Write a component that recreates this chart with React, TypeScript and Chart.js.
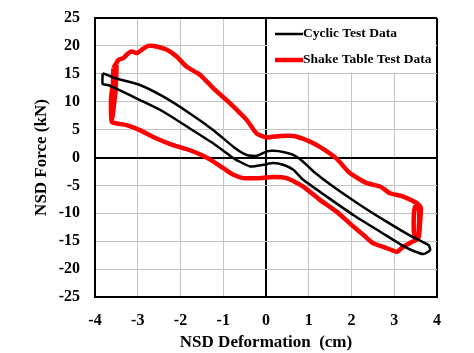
import React, { useEffect, useRef } from "react";
import { Chart, registerables } from "chart.js";

Chart.register(...registerables);

const seriesLabels = ["Cyclic Test Data", "Shake Table Test Data"];

// Cyclic test hysteresis loop (closed path)
const cyclicX = [
  -3.82, -3.65, -3.53, -2.95, -2.4, -1.78, -1.23, -0.76, -0.45, -0.22, 0.02, 0.17, 0.4, 0.64, 0.87, 1.11, 1.57, 2.2,
  2.82, 3.37, 3.8, 3.84, 3.68, 3.29, 2.67, 2.04, 1.42, 0.87, 0.64, 0.4, 0.17, -0.06, -0.37, -0.69, -0.76, -1.23, -1.78,
  -2.4, -2.95, -3.49, -3.69, -3.82, -3.82,
];
const cyclicY = [
  15.1, 14.6, 14.2, 13.0, 10.9, 7.9, 4.9, 1.9, 0.45, 0.3, 1.1, 1.2, 1.0, 0.45, -0.75, -2.5, -5.2, -8.5, -11.5, -14.0,
  -15.7, -16.6, -17.3, -16.2, -13.3, -10.3, -7.0, -4.0, -2.2, -1.3, -1.0, -1.3, -1.6, -0.45, -0.15, 2.5, 5.2, 8.2, 10.3,
  12.3, 13.0, 13.2, 15.1,
];

// Shake table test hysteresis loop (closed path)
const shakeX = [
  -3.57, -3.45, -3.34, -3.22, -3.14, -3.02, -2.91, -2.75, -2.56, -2.32, -2.09, -1.86, -1.54, -1.23, -0.84, -0.45, -0.22,
  0.02, 0.33, 0.64, 0.95, 1.26, 1.65, 1.96, 2.36, 2.67, 2.9, 3.21, 3.53, 3.62, 3.6, 3.57, 3.47, 3.46, 3.5, 3.58, 3.55,
  3.4, 3.21, 3.06, 2.94, 2.74, 2.51, 2.28, 1.96, 1.65, 1.26, 0.87, 0.48, 0.17, -0.2, -0.53, -0.76, -1.0, -1.23, -1.47,
  -1.78, -2.17, -2.56, -2.95, -3.26, -3.49, -3.61, -3.62, -3.5, -3.52, -3.6, -3.57,
];
const shakeY = [
  16.0, 17.5, 17.8, 18.7, 19.0, 18.7, 19.3, 20.0, 19.9, 19.3, 18.1, 16.3, 14.8, 12.4, 9.7, 6.7, 4.3, 3.6, 3.85, 3.85,
  3.1, 1.9, -0.2, -2.8, -4.6, -5.2, -6.4, -7.0, -8.2, -9.0, -12.0, -14.3, -14.0, -10.0, -8.6, -9.5, -14.5, -15.2, -16.0,
  -16.9, -16.6, -16.0, -15.4, -13.9, -11.8, -9.7, -7.6, -5.2, -3.7, -3.5, -3.7, -3.7, -3.1, -1.9, -0.75, 0.3, 1.3, 2.2,
  3.4, 4.9, 5.8, 6.1, 6.4, 11.0, 16.5, 12.0, 7.0, 16.0,
];

const xTicks = [-4, -3, -2, -1, 0, 1, 2, 3, 4];
const yTicks = [-25, -20, -15, -10, -5, 0, 5, 10, 15, 20, 25];

const xTitle = "NSD Deformation  (cm)";
const yTitle = "NSD Force (kN)";

const FONT = "'Liberation Serif', 'Times New Roman', serif";

const toPoints = (xs: number[], ys: number[]) => xs.map((x, i) => ({ x, y: ys[i] }));

const insideLegend = {
  id: "insideLegend",
  beforeDatasetsDraw(chart: any) {
    const { ctx, chartArea, scales } = chart;
    const x0 = scales.x.getPixelForValue(0);
    const yb = scales.y.getPixelForValue(15);
    ctx.save();
    ctx.fillStyle = "#ffffff";
    ctx.fillRect(x0 + 1.5, chartArea.top + 1, chartArea.right - x0 - 2.5, yb - chartArea.top - 2);
    ctx.font = `bold 13.5px ${FONT}`;
    ctx.textBaseline = "middle";
    ctx.textAlign = "left";
    chart.data.datasets.forEach((ds: any, i: number) => {
      const y = chartArea.top + 16 + i * 26;
      ctx.strokeStyle = ds.borderColor;
      ctx.lineWidth = ds.borderWidth;
      ctx.beginPath();
      ctx.moveTo(x0 + 9, y);
      ctx.lineTo(x0 + 37, y);
      ctx.stroke();
      ctx.fillStyle = "#000000";
      ctx.fillText(ds.label, x0 + 37, y);
    });
    ctx.restore();
  },
};

export default function App() {
  const canvasRef = useRef<HTMLCanvasElement | null>(null);

  useEffect(() => {
    document.body.style.margin = "0";
    const canvas = canvasRef.current;
    if (!canvas) return;
    const xMin = xTicks[0];
    const xMax = xTicks[xTicks.length - 1];
    const yMin = yTicks[0];
    const yMax = yTicks[yTicks.length - 1];
    const gridColor = (edgeA: number, edgeB: number) => (c: any) => {
      const v = c.tick ? c.tick.value : null;
      return v === 0 || v === edgeA || v === edgeB ? "#000000" : "#c4c4c4";
    };
    const gridWidth = (edgeA: number, edgeB: number) => (c: any) => {
      const v = c.tick ? c.tick.value : null;
      return v === 0 || v === edgeA || v === edgeB ? 2 : 1;
    };
    const chart = new Chart(canvas, {
      type: "scatter",
      data: {
        datasets: [
          {
            label: seriesLabels[0],
            data: toPoints(cyclicX, cyclicY),
            showLine: true,
            borderColor: "#000000",
            backgroundColor: "#000000",
            borderWidth: 2.5,
            pointRadius: 0,
            tension: 0.2,
          },
          {
            label: seriesLabels[1],
            data: toPoints(shakeX, shakeY),
            showLine: true,
            borderColor: "#ff0000",
            backgroundColor: "#ff0000",
            borderWidth: 4.5,
            pointRadius: 0,
            tension: 0.2,
          },
        ],
      },
      options: {
        animation: false,
        responsive: false,
        devicePixelRatio: 1,
        layout: { padding: { top: 18, right: 37, left: 0, bottom: 0 } },
        plugins: {
          legend: { display: false },
          tooltip: { enabled: false },
        },
        scales: {
          x: {
            type: "linear",
            min: xMin,
            max: xMax,
            afterBuildTicks: (s: any) => {
              s.ticks = xTicks.map((v) => ({ value: v }));
            },
            afterFit: (s: any) => {
              s.height = 56;
              s.paddingLeft = 0;
              s.paddingRight = 0;
            },
            grid: { color: gridColor(xMin, xMax), lineWidth: gridWidth(xMin, xMax), drawTicks: false },
            border: { display: true, color: "#000000", width: 2 },
            ticks: {
              padding: 14,
              color: "#000000",
              font: { family: FONT, size: 16, weight: "bold" },
              maxRotation: 0,
            },
            title: {
              display: true,
              text: xTitle,
              color: "#000000",
              font: { family: FONT, size: 17, weight: "bold" },
              padding: { top: 0, bottom: 0 },
            },
          },
          y: {
            type: "linear",
            min: yMin,
            max: yMax,
            afterBuildTicks: (s: any) => {
              s.ticks = yTicks.map((v) => ({ value: v }));
            },
            afterFit: (s: any) => {
              s.width = 95;
              s.paddingTop = 0;
              s.paddingBottom = 0;
            },
            grid: { color: gridColor(yMin, yMax), lineWidth: gridWidth(yMin, yMax), drawTicks: false },
            border: { display: true, color: "#000000", width: 2 },
            ticks: {
              padding: 15,
              color: "#000000",
              font: { family: FONT, size: 16, weight: "bold" },
            },
            title: {
              display: true,
              text: yTitle,
              color: "#000000",
              font: { family: FONT, size: 17, weight: "bold" },
              padding: { top: 31, bottom: 0 },
            },
          },
        },
      } as any,
      plugins: [insideLegend],
    });
    return () => chart.destroy();
  }, []);

  return (
    <div style={{ width: 474, height: 353, background: "#ffffff" }}>
      <canvas ref={canvasRef} width={474} height={353} style={{ width: 474, height: 353, display: "block" }} />
    </div>
  );
}
